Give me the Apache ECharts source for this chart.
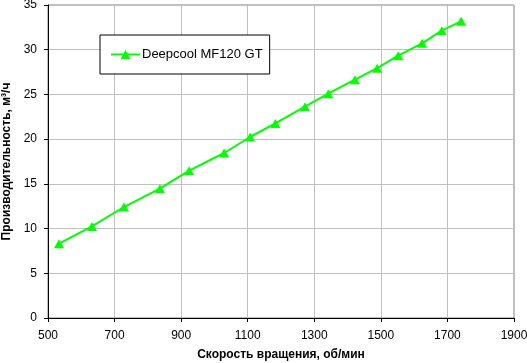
<!DOCTYPE html>
<html>
<head>
<meta charset="utf-8">
<script src="https://cdn.jsdelivr.net/npm/echarts@6/dist/echarts.min.js"></script>
<style>html,body{margin:0;padding:0;background:#fff;}#c{width:527px;height:363px;}</style>
</head>
<body>
<div id="c"></div>
<script>
const seriesName = 'Deepcool MF120 GT';
const rpm = [533, 632, 728, 836, 924, 1029, 1107, 1183, 1272, 1342, 1422, 1489, 1552, 1624, 1683, 1741];
const flow = [8.31, 10.24, 12.41, 14.46, 16.47, 18.45, 20.24, 21.76, 23.63, 25.08, 26.65, 27.93, 29.33, 30.71, 32.13, 33.17];
const xTitle = 'Скорость вращения, об/мин';
const yTitle = 'Производительность, м³/ч';

const chart = echarts.init(document.getElementById('c'), null, {renderer: 'canvas'});
const font = 'Liberation Sans, Arial, sans-serif';
chart.setOption({
  animation: false,
  backgroundColor: '#fff',
  textStyle: {fontFamily: font},
  grid: {left: 48, right: 13, top: 5, bottom: 45, show: true, borderColor: '#808080', borderWidth: 1,
         containLabel: false, outerBoundsMode: 'none'},
  legend: {
    show: true,
    left: 100, top: 35,
    padding: [13, 7, 13, 10],
    backgroundColor: '#fff',
    borderColor: '#000', borderWidth: 1,
    itemWidth: 29, itemHeight: 12, itemGap: 4,
    textStyle: {fontFamily: font, fontSize: 13, color: '#000', padding: [0,0,0,-3]},
    data: [seriesName]
  },
  xAxis: {
    type: 'value', min: 500, max: 1900, interval: 200,
    name: xTitle, nameLocation: 'middle', nameGap: 31,
    nameTextStyle: {fontFamily: font, fontSize: 12, fontWeight: 'bold', color: '#000'},
    axisLine: {show: true, onZero: false, lineStyle: {color: '#000', width: 1}},
    axisTick: {show: true, length: 4, inside: false, lineStyle: {color: '#000'}},
    axisLabel: {fontFamily: font, fontSize: 12, color: '#000', margin: 12, formatter: v => String(v)},
    splitLine: {show: true, lineStyle: {color: '#c0c0c0', width: 1}}
  },
  yAxis: {
    type: 'value', min: 0, max: 35, interval: 5,
    name: yTitle, nameLocation: 'middle', nameGap: 33, nameRotate: 90,
    nameTextStyle: {fontFamily: font, fontSize: 12, fontWeight: 'bold', color: '#000'},
    axisLine: {show: true, onZero: false, lineStyle: {color: '#000', width: 1}},
    axisTick: {show: true, length: 4, inside: false, lineStyle: {color: '#000'}},
    axisLabel: {fontFamily: font, fontSize: 12, color: '#000', margin: 11, formatter: v => String(v)},
    splitLine: {show: true, lineStyle: {color: '#c0c0c0', width: 1}}
  },
  series: [{
    name: seriesName,
    type: 'line',
    data: rpm.map((r, i) => [r, flow[i]]),
    symbol: 'triangle', symbolSize: [10, 9],
    lineStyle: {color: '#00ff00', width: 2},
    itemStyle: {color: '#00ff00'},
    emphasis: {disabled: true}
  }]
});
</script>
</body>
</html>
